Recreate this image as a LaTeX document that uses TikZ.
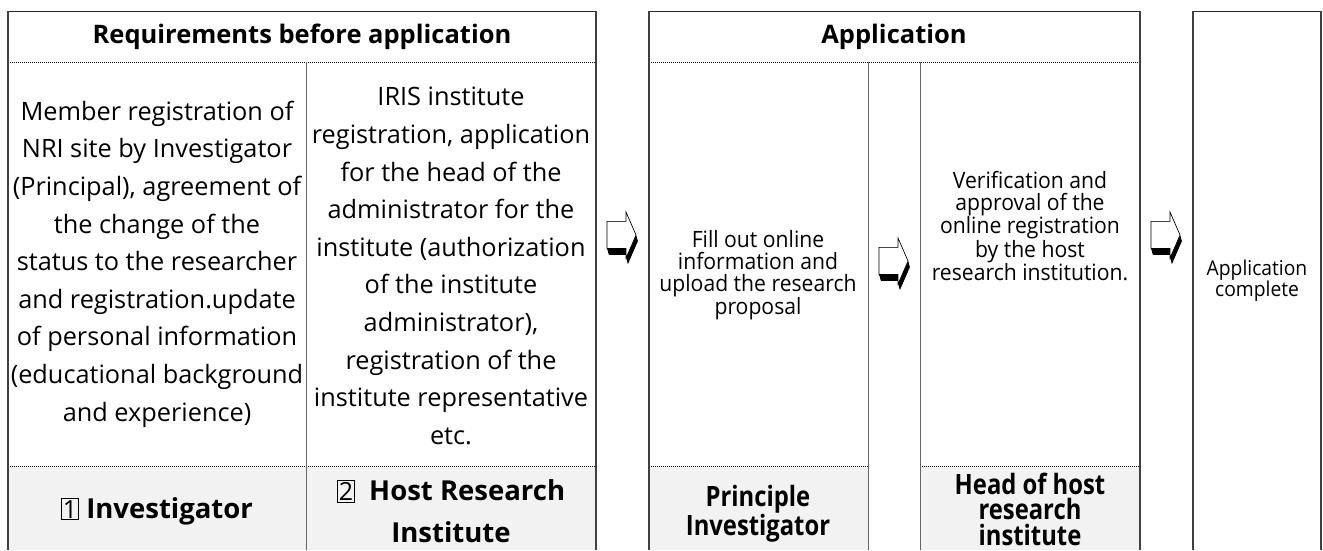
\documentclass[tikz,border=0pt]{standalone}
\usepackage{fontspec}
\setmainfont{Open Sans}
\newfontfamily\narrowfont[FakeStretch=0.85]{Open Sans}
\newfontfamily\condfont[FakeStretch=0.94]{Open Sans}
\usetikzlibrary{positioning}
\newcommand\numbox[1]{{\fboxsep=1.2pt\fboxrule=0.7pt\fbox{\normalfont\fontsize{25}{25}\selectfont #1}}}

\begin{document}
\begin{tikzpicture}[x=1pt, y=-1pt,
    edge/.style={draw=black!75, line width=1.6pt},
    topline/.style={draw=black!85, line width=1pt},
    colline/.style={draw=black!60, line width=1pt},
    dotline/.style={draw=black, line width=0.8pt, dash pattern=on 0.8pt off 1.2pt},
    shade/.style={fill=black!5},
    head/.style={inner sep=0pt, font=\bfseries\fontsize{25.5}{30}\selectfont},
    txt/.style={align=center, inner sep=0pt, font=\fontsize{25.3}{37.6}\selectfont},
    lab/.style={align=center, inner sep=0pt, font=\bfseries\fontsize{27.5}{42}\selectfont},
    ntxt/.style={align=center, inner sep=0pt, font=\condfont\fontsize{22.5}{22}\selectfont},
    nlab/.style={align=center, inner sep=0pt, font=\narrowfont\bfseries\fontsize{28}{25.5}\selectfont},
    flowarr/.pic={
      \foreach \s in {0,0.1,...,1}
        \fill[black, shift={(2*\s,7*\s)}] (0,9.3) -- (19,9.3) -- (19,0) -- (29,23)
          -- (19,46) -- (19,36.5) -- (0,36.5) -- cycle;
      \filldraw[fill=white, draw=black, line width=0.6pt] (0,9.3) -- (19,9.3) -- (19,0)
        -- (29,23) -- (19,46) -- (19,36.5) -- (0,36.5) -- cycle;
    }
  ]
  \useasboundingbox (0,0) rectangle (1323,550);

  % requirements table
  \fill[shade] (8,466) rectangle (596,550);
  \draw[dotline] (8,62) -- (596,62);
  \draw[dotline] (8,466) -- (596,466);
  \draw[colline] (306,62) -- (306,550);
  \draw[topline] (8,11) -- (596,11);
  \draw[edge] (8,11) -- (8,550);
  \draw[edge] (596,11) -- (596,550);

  % application table
  \fill[shade] (649,466) rectangle (868,550);
  \fill[shade] (920,466) rectangle (1140,550);
  \draw[dotline] (649,62) -- (1140,62);
  \draw[dotline] (649,466) -- (868,466);
  \draw[dotline] (920,466) -- (1140,466);
  \draw[colline] (868,62) -- (868,550);
  \draw[colline] (920,62) -- (920,550);
  \draw[topline] (649,11) -- (1140,11);
  \draw[edge] (649,11) -- (649,550);
  \draw[edge] (1140,11) -- (1140,550);

  % complete box
  \draw[topline] (1193,11) -- (1321,11);
  \draw[edge] (1193,11) -- (1193,550);
  \draw[edge] (1321,11) -- (1321,550);

  \node[head] (reqhead) at (302,37) {Requirements before application};
  \node[txt] (member) at (157,264) {Member registration of\\NRI site by Investigator\\(Principal), agreement of\\the change of the\\status to the researcher\\and registration.update\\of personal information\\(educational background\\and experience)};
  \node[txt] (iris) at (451,266) {IRIS institute\\registration, application\\for the head of the\\administrator for the\\institute (authorization\\of the institute\\administrator),\\registration of the\\institute representative\\etc.};
  \node[lab] (inv) at (157,511) {\numbox{1} Investigator};
  \node[lab] (host) at (451,511) {\numbox{2}\ \ Host Research\\Institute};

  \node[head] (apphead) at (894,37) {Application};
  \node[ntxt] (fill) at (758,275) {Fill out online\\information and\\upload the research\\proposal};
  \node[ntxt] (verify) at (1030,226) {Verification and\\approval of the\\online registration\\by the host\\research institution.};
  \node[nlab] (pi) at (758,514) {Principle\\Investigator};
  \node[nlab] (headhost) at (1030,509) {Head of host\\research\\institute};
  \node[ntxt, font=\condfont\fontsize{20.5}{21}\selectfont] (done) at (1257,281) {Application\\complete};

  \coordinate (arr1) at (607,212);
  \coordinate (arr2) at (879,238);
  \coordinate (arr3) at (1151,212);
  \pic at (arr1) {flowarr};
  \pic at (arr2) {flowarr};
  \pic at (arr3) {flowarr};
\end{tikzpicture}
\end{document}
